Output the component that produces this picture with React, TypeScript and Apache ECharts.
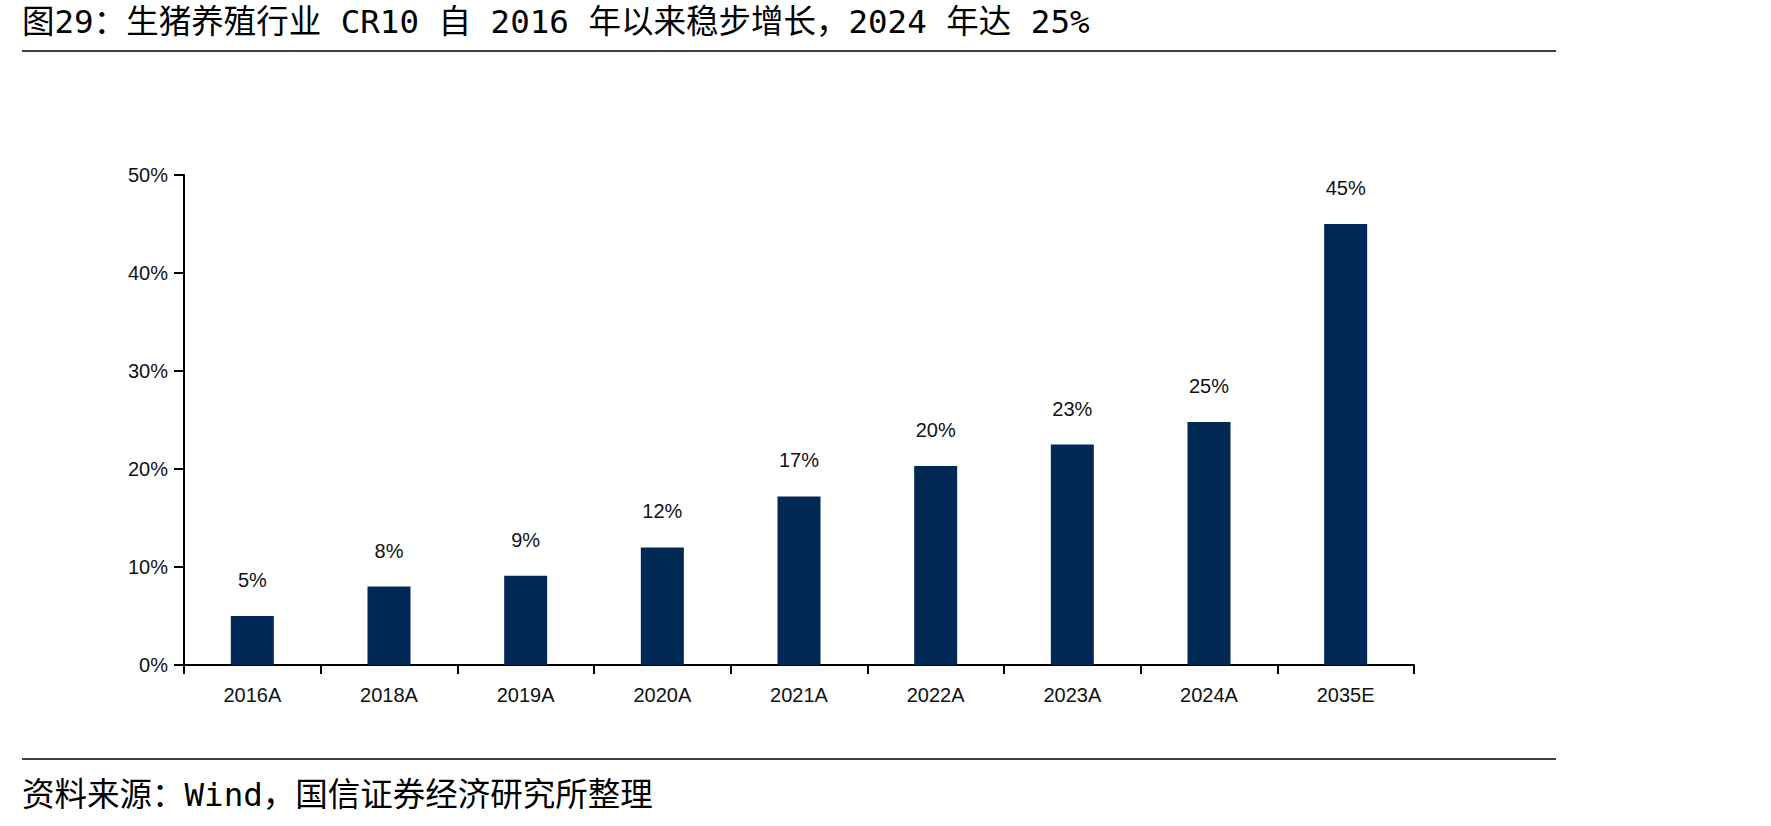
import React, { useEffect, useRef } from "react";
import * as echarts from "echarts";

const categories = ["2016A", "2018A", "2019A", "2020A", "2021A", "2022A", "2023A", "2024A", "2035E"];
const cr10Values = [5.0, 8.0, 9.1, 12.0, 17.2, 20.3, 22.5, 24.8, 45.0];
const yTicks = { min: 0, max: 50, interval: 10 };
const titleText = "图29：生猪养殖行业 CR10 自 2016 年以来稳步增长，2024 年达 25%";
const sourceText = "资料来源：Wind，国信证券经济研究所整理";

export default function App() {
  const ref = useRef<HTMLDivElement>(null);
  useEffect(() => {
    if (!ref.current) return;
    const chart = echarts.init(ref.current, null, { renderer: "svg" });
    const cjk = '"DejaVu Sans Mono", "Noto Sans CJK SC", sans-serif';
    const latin = '"Liberation Sans", Arial, sans-serif';
    chart.setOption({
      animation: false,
      backgroundColor: "#ffffff",
      grid: { left: 184, top: 175, right: 357, bottom: 161, containLabel: false },
      xAxis: {
        type: "category",
        data: categories,
        boundaryGap: true,
        axisLine: { show: true, lineStyle: { color: "#000", width: 2 } },
        axisTick: { show: true, alignWithLabel: false, length: 9, lineStyle: { color: "#000", width: 2 } },
        axisLabel: { color: "#111", fontSize: 20, fontFamily: latin, margin: 20 },
      },
      yAxis: {
        type: "value",
        min: yTicks.min,
        max: yTicks.max,
        interval: yTicks.interval,
        axisLine: { show: true, lineStyle: { color: "#000", width: 2 } },
        axisTick: { show: true, inside: false, length: 10, lineStyle: { color: "#000", width: 2 } },
        axisLabel: { color: "#111", fontSize: 20, fontFamily: latin, margin: 16, formatter: "{value}%" },
        splitLine: { show: false },
      },
      series: [
        {
          type: "bar",
          data: cr10Values,
          barWidth: 43,
          itemStyle: { color: "#022856" },
          label: {
            show: true,
            position: "top",
            distance: 26,
            color: "#111",
            fontSize: 20,
            fontFamily: latin,
            formatter: (p: any) => Math.round(p.value) + "%",
          },
        },
      ],
      graphic: [
        {
          type: "text",
          x: 22,
          y: 22,
          style: { text: titleText, fontSize: 32.5, fontFamily: cjk, fill: "#000", textVerticalAlign: "middle", verticalAlign: "middle" },
        },
        {
          type: "line",
          shape: { x1: 22, y1: 51, x2: 1556, y2: 51 },
          style: { stroke: "#000", lineWidth: 1.5 },
        },
        {
          type: "line",
          shape: { x1: 22, y1: 759, x2: 1556, y2: 759 },
          style: { stroke: "#000", lineWidth: 1.5 },
        },
        {
          type: "text",
          x: 22,
          y: 795,
          style: { text: sourceText, fontSize: 32.5, fontFamily: cjk, fill: "#000", textVerticalAlign: "middle", verticalAlign: "middle" },
        },
      ],
    });
    return () => chart.dispose();
  }, []);
  return (
    <div
      ref={ref}
      style={{ position: "fixed", left: 0, top: 0, width: 1771, height: 826, background: "#fff" }}
    />
  );
}
